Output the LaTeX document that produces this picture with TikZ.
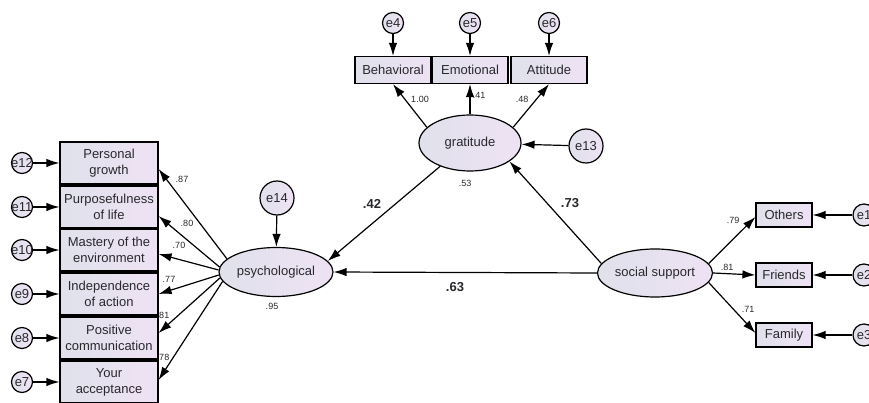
\documentclass[tikz,border=0pt]{standalone}
\usepackage{fontspec}
\setmainfont{Liberation Sans}
\usepackage{tikz}
\usetikzlibrary{shapes.geometric,arrows.meta}
\definecolor{shadeL}{RGB}{224,225,235}
\definecolor{shadeR}{RGB}{238,226,244}
\definecolor{ink}{RGB}{40,40,45}

\begin{document}
\begin{tikzpicture}[x=1pt,y=-1pt,font=\fontsize{13}{16}\selectfont,text=ink,
    obs/.style={rectangle,draw,line width=1.2pt,left color=shadeL,right color=shadeR,inner sep=0pt,align=center},
    lat/.style={ellipse,draw,line width=1.2pt,left color=shadeL,right color=shadeR,inner sep=0pt},
    err/.style={circle,draw,line width=1.2pt,left color=shadeL,right color=shadeR,inner sep=-1.5pt,minimum size=#1},
    coef/.style={font=\fontsize{9}{10}\selectfont},
    beta/.style={font=\bfseries\fontsize{13}{15}\selectfont},
    arr/.style={-{Latex[length=13pt,width=8.5pt]},line width=1.2pt}]
  \useasboundingbox (0,0) rectangle (869,403);
  \clip (0,0) rectangle (869,403);

  \node[coef] (l87) at (182,179) {.87};
  \node[coef] (l80) at (187,223) {.80};
  \node[coef] (l70) at (179,245) {.70};
  \node[coef] (l77) at (169,279) {.77};
  \node[coef] (l81) at (163,315) {.81};
  \node[coef] (l78) at (163,357) {.78};

  \node[obs,minimum width=98pt,minimum height=42pt](growth) at (109,163) {Personal\\growth};
  \node[obs,minimum width=98pt,minimum height=42pt](purpose) at (109,207) {Purposefulness\\of life};
  \node[obs,minimum width=98pt,minimum height=42pt](mastery) at (109,250) {Mastery of the\\environment};
  \node[obs,minimum width=98pt,minimum height=42pt](independ) at (109,294) {Independence\\of action};
  \node[obs,minimum width=98pt,minimum height=42pt](positive) at (109,338) {Positive\\communication};
  \node[obs,minimum width=98pt,minimum height=42pt](accept) at (109,382) {Your\\acceptance};

  \node[err=21pt](e12) at (22,163) {e12};
  \node[err=21pt](e11) at (22,207) {e11};
  \node[err=21pt](e10) at (22,250) {e10};
  \node[err=21pt](e9) at (22,294) {e9};
  \node[err=21pt](e8) at (22,338) {e8};
  \node[err=21pt](e7) at (22,382) {e7};

  \node[lat,minimum width=114pt,minimum height=49pt](psych) at (276,272) {psychological};
  \node[err=34pt](e14) at (277,198) {e14};
  \node[coef] (r95) at (272,306) {.95};

  \node[obs,minimum width=76pt,minimum height=27pt](behav) at (393,70) {Behavioral};
  \node[obs,minimum width=76pt,minimum height=27pt](emot) at (470,70) {Emotional};
  \node[obs,minimum width=76pt,minimum height=27pt](attit) at (549,70) {Attitude};
  \node[err=21pt](e4) at (393,23) {e4};
  \node[err=21pt](e5) at (470,23) {e5};
  \node[err=21pt](e6) at (549,23) {e6};

  \node[lat,minimum width=102pt,minimum height=56pt](grat) at (470,143) {gratitude};
  \node[err=34pt](e13) at (586,146) {e13};
  \node[coef] (r53) at (465,183) {.53};
  \node[coef] (l100) at (420,99) {1.00};
  \node[coef] (l41) at (479,95) {.41};
  \node[coef] (l48) at (522,99) {.48};

  \node[lat,minimum width=115pt,minimum height=48pt](social) at (655,273) {social support};
  \node[obs,minimum width=56pt,minimum height=24pt](others) at (784,215) {Others};
  \node[obs,minimum width=56pt,minimum height=24pt](friends) at (784,275) {Friends};
  \node[obs,minimum width=56pt,minimum height=24pt](family) at (784,335) {Family};
  \node[err=22pt](e1) at (864,215) {e1};
  \node[err=22pt](e2) at (864,275) {e2};
  \node[err=22pt](e3) at (864,335) {e3};
  \node[coef] (l79) at (733,220) {.79};
  \node[coef] (l81b) at (727,267) {.81};
  \node[coef] (l71) at (748,309) {.71};

  \node[beta] (b42) at (372,204) {.42};
  \node[beta] (b73) at (570,203) {.73};
  \node[beta] (b63) at (455,287) {.63};

  \draw[arr] (psych.165) -- ([yshift=-6pt]growth.east);
  \draw[arr] (psych.175) -- ([yshift=-9pt]purpose.east);
  \draw[arr] (psych.178) -- ([yshift=-4pt]mastery.east);
  \draw[arr] (psych.183) -- (independ.east);
  \draw[arr] (psych.186) -- ([yshift=5pt]positive.east);
  \draw[arr] (psych.190) -- ([yshift=2pt]accept.east);
  \draw[arr] (e12) -- (growth);
  \draw[arr] (e11) -- (purpose);
  \draw[arr] (e10) -- (mastery);
  \draw[arr] (e9) -- (independ);
  \draw[arr] (e8) -- (positive);
  \draw[arr] (e7) -- (accept);
  \draw[arr] (e14) -- (psych);

  \draw[arr] (e4) -- (behav);
  \draw[arr] (e5) -- (emot);
  \draw[arr] (e6) -- (attit);
  \draw[arr] (grat.160) -- (behav.south);
  \draw[arr] (grat.north) -- (emot.south);
  \draw[arr] (grat.20) -- (attit.south);
  \draw[arr] (e13) -- (grat);

  \draw[arr] (grat.218) -- (psych.12);
  \draw[arr] (social.170) -- (grat.335);
  \draw[arr] (social.west) -- (psych.east);

  \draw[arr] (social.10) -- ([yshift=-2pt]others.west);
  \draw[arr] (social.east) -- (friends.west);
  \draw[arr] (social.350) -- ([yshift=2pt]family.west);
  \draw[arr] (e1) -- (others);
  \draw[arr] (e2) -- (friends);
  \draw[arr] (e3) -- (family);
\end{tikzpicture}
\end{document}
